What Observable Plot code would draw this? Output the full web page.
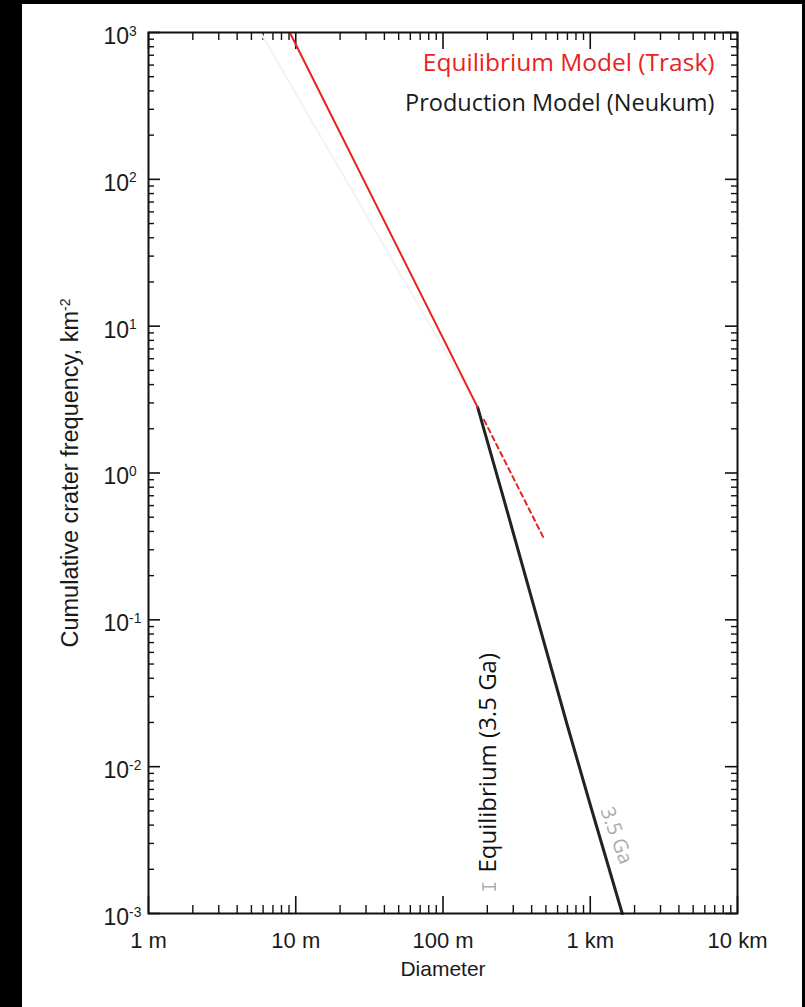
<!DOCTYPE html>
<html>
<head>
<meta charset="utf-8">
<script src="https://cdn.jsdelivr.net/npm/d3@7"></script>
<script src="https://cdn.jsdelivr.net/npm/@observablehq/plot@0.6"></script>
<style>
  html, body { margin: 0; padding: 0; background: #000; width: 805px; height: 1007px; overflow: hidden; }
  #sheet { position: absolute; left: 22px; top: 4px; width: 780px; height: 1003px; background: #fff; }
  #sheet svg { display: block; background: #fff; }
</style>
</head>
<body>
<div id="sheet"></div>
<script>
// ---- Axis ticks & labels ----
const xMajor = [1, 10, 100, 1000, 10000];
const xLabels = ["1 m", "10 m", "100 m", "1 km", "10 km"];
const yMajor = [1e-3, 1e-2, 1e-1, 1, 10, 100, 1000];
const yLabels = ["10^-3", "10^-2", "10^-1", "10^0", "10^1", "10^2", "10^3"];
const minorMultipliers = [2, 3, 4, 5, 6, 7, 8, 9];

// ---- Series (diameter in m, cumulative frequency per km^2) ----
const eqD = [9.2, 172];            // Equilibrium model (Trask), solid
const eqN = [980, 2.8];
const eqExtD = [190, 490];         // Equilibrium extension, dashed
const eqExtN = [2.3, 0.35];
const prodD = [172, 250, 400, 700, 1000, 1650];   // Production model (Neukum) 3.5 Ga
const prodN = [2.8, 0.75, 0.14, 0.019, 0.0055, 0.001];
const prodSmallD = [5.9, 172];     // faint production branch at small sizes
const prodSmallN = [960, 2.8];
const errD = [187, 226];           // equilibrium onset uncertainty
const errN = 0.00152;

const toRows = (D, N) => D.map((d, i) => ({D: d, N: N[i]}));
const eq = toRows(eqD, eqN);
const eqExt = toRows(eqExtD, eqExtN);
const prod = toRows(prodD, prodN);
const prodSmall = toRows(prodSmallD, prodSmallN);
const err = errD.map(d => ({D: d, N: errN}));

const xMinor = xMajor.slice(0, -1).flatMap(d => minorMultipliers.map(k => d * k));
const yMinor = yMajor.slice(0, -1).flatMap(d => minorMultipliers.map(k => d * k));

const W = 780, H = 1003;
const mL = 126, mR = 65, mT = 28, mB = 94;
const iw = W - mL - mR, ih = H - mT - mB;

const capSymbol = { draw(ctx, size) { const h = 4; ctx.moveTo(0, -h); ctx.lineTo(0, h); } };

const tickFont = "Liberation Sans, Arial, Helvetica, sans-serif";
const legendFont = "Open Sans, Noto Sans, sans-serif";

const chart = Plot.plot({
  width: W, height: H,
  marginLeft: mL, marginRight: mR, marginTop: mT, marginBottom: mB,
  style: { background: "#fff", overflow: "visible" },
  x: { type: "log", domain: [1, 10000], axis: null },
  y: { type: "log", domain: [1e-3, 1e3], axis: null },
  marks: [
    // ticks (inward, all four sides)
    Plot.tickX(xMajor, { x: d => d, insetTop: ih - 17, stroke: "#111", strokeWidth: 1.6 }),
    Plot.tickX(xMinor, { x: d => d, insetTop: ih - 8, stroke: "#111", strokeWidth: 1.4 }),
    Plot.tickX(xMajor, { x: d => d, insetBottom: ih - 17, stroke: "#111", strokeWidth: 1.6 }),
    Plot.tickX(xMinor, { x: d => d, insetBottom: ih - 8, stroke: "#111", strokeWidth: 1.4 }),
    Plot.tickY(yMajor, { y: d => d, insetRight: iw - 12, stroke: "#111", strokeWidth: 1.6 }),
    Plot.tickY(yMinor, { y: d => d, insetRight: iw - 6, stroke: "#111", strokeWidth: 1.4 }),
    Plot.tickY(yMajor, { y: d => d, insetLeft: iw - 12, stroke: "#111", strokeWidth: 1.6 }),
    Plot.tickY(yMinor, { y: d => d, insetLeft: iw - 6, stroke: "#111", strokeWidth: 1.4 }),

    // curves
    Plot.line(prodSmall, { x: "D", y: "N", stroke: "#f3f3f3", strokeWidth: 2 }),
    Plot.line(eqExt, { x: "D", y: "N", stroke: "#e8231f", strokeWidth: 2, strokeDasharray: "5,4" }),
    Plot.line(prod, { x: "D", y: "N", stroke: "#222", strokeWidth: 3 }),
    Plot.line(eq, { x: "D", y: "N", stroke: "#e8231f", strokeWidth: 2 }),

    // error bar
    Plot.line(err, { x: "D", y: "N", stroke: "#aaa", strokeWidth: 1.5 }),
    Plot.dot(err, { x: "D", y: "N", symbol: capSymbol, stroke: "#aaa", fill: "none", strokeWidth: 1.5, r: 4 }),

    // annotations
    Plot.text([{D: 204, N: 0.0019, t: "Equilibrium (3.5 Ga)"}], {
      x: "D", y: "N", text: "t", rotate: -90, textAnchor: "start",
      fontFamily: legendFont, fontSize: 24, fill: "#111"
    }),
    Plot.text([{D: 1503, N: 0.0034, t: "3.5 Ga"}], {
      x: "D", y: "N", text: "t", rotate: 70, textAnchor: "middle",
      fontFamily: legendFont, fontSize: 20, fill: "#aaa"
    }),
    Plot.text(["Equilibrium Model (Trask)"], {
      frameAnchor: "top-right", dx: -23, dy: 21, text: d => d, textAnchor: "end",
      fontFamily: legendFont, fontSize: 24.5, fill: "#e8231f"
    }),
    Plot.text(["Production Model (Neukum)"], {
      frameAnchor: "top-right", dx: -23, dy: 62, text: d => d, textAnchor: "end",
      fontFamily: legendFont, fontSize: 23.5, fill: "#1a1a1a"
    }),

    // tick labels
    Plot.text(xMajor, {
      x: d => d, frameAnchor: "bottom", dy: 34, text: (d, i) => xLabels[i],
      textAnchor: "middle", fontFamily: tickFont, fontSize: 22, fill: "#1a1a1a"
    }),
    Plot.text(yMajor, {
      y: d => d, frameAnchor: "left", dx: -45, dy: 4, text: (d, i) => yLabels[i],
      textAnchor: "start", fontFamily: tickFont, fontSize: 23, fill: "#1a1a1a"
    }),

    // axis titles
    Plot.text(["Diameter"], {
      frameAnchor: "bottom", dy: 62, text: d => d, textAnchor: "middle",
      fontFamily: tickFont, fontSize: 21, fill: "#1a1a1a"
    }),
    Plot.text(["Cumulative crater frequency, km^-2"], {
      frameAnchor: "left", dx: -78, rotate: -90, text: d => d, textAnchor: "middle",
      fontFamily: tickFont, fontSize: 23.5, fill: "#1a1a1a"
    }),

    Plot.frame({ stroke: "#111", strokeWidth: 2 })
  ]
});

// render "a^b" as base + superscript tspan
chart.querySelectorAll("text").forEach(t => {
  const s = t.textContent;
  const m = s.match(/^(.*)\^(\S+)$/);
  if (!m) return;
  t.textContent = "";
  const ns = "http://www.w3.org/2000/svg";
  const a = document.createElementNS(ns, "tspan");
  a.textContent = m[1];
  const b = document.createElementNS(ns, "tspan");
  b.textContent = m[2];
  b.setAttribute("dy", "-0.6em");
  b.setAttribute("font-size", "0.6em");
  t.appendChild(a); t.appendChild(b);
});

document.getElementById("sheet").appendChild(chart);
</script>
</body>
</html>
